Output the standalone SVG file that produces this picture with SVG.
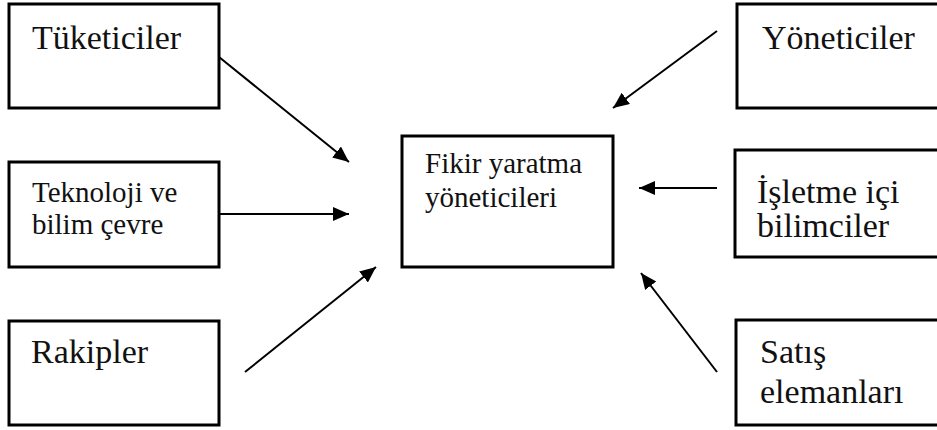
<svg xmlns="http://www.w3.org/2000/svg" width="937" height="430" viewBox="0 0 937 430">
<style>
.box{fill:#fff;stroke:#000;stroke-width:3}
text{font-family:'Liberation Serif','Times New Roman',Tinos,serif;fill:#111}
.l{font-size:34px}
.s{font-size:29px}
.c{stroke:#000;stroke-width:2;fill:none;marker-end:url(#ah)}
</style>
<defs>
<marker id="ah" markerUnits="userSpaceOnUse" markerWidth="17" markerHeight="15" refX="16" refY="7" orient="auto" viewBox="0 0 17 15">
<path d="M0,0 L16,7 L0,14 z" fill="#000"/>
</marker>
</defs>
<rect width="937" height="430" fill="#fff"/>
<g id="tuketiciler">
<rect class="box" x="9" y="4" width="210" height="104"/>
<text class="l" x="32" y="49" font-family="Liberation Serif">Tüketiciler</text>
</g>
<g id="teknoloji">
<rect class="box" x="9" y="162" width="210" height="105"/>
<text class="s" x="32" y="202" font-family="Liberation Serif">Teknoloji ve</text>
<text class="s" x="32" y="234" font-family="Liberation Serif">bilim çevre</text>
</g>
<g id="rakipler">
<rect class="box" x="9" y="321" width="210" height="104"/>
<text class="l" x="31" y="363" font-family="Liberation Serif">Rakipler</text>
</g>
<g id="fikir">
<rect class="box" x="402" y="136" width="211" height="131"/>
<text class="s" x="425" y="173" font-family="Liberation Serif">Fikir yaratma</text>
<text class="s" x="425" y="207" font-family="Liberation Serif">yöneticileri</text>
</g>
<g id="yoneticiler">
<rect class="box" x="737" y="4" width="220" height="104"/>
<text class="l" x="762" y="49" font-family="Liberation Serif">Yöneticiler</text>
</g>
<g id="isletme">
<rect class="box" x="735" y="150" width="222" height="107"/>
<text class="l" x="757" y="203" font-family="Liberation Serif">İşletme içi</text>
<text class="l" x="757" y="237" font-family="Liberation Serif">bilimciler</text>
</g>
<g id="satis">
<rect class="box" x="736" y="320" width="221" height="105"/>
<text class="l" x="760" y="363" font-family="Liberation Serif">Satış</text>
<text class="l" x="760" y="403" font-family="Liberation Serif">elemanları</text>
</g>
<g id="connectors">
<line class="c" x1="219" y1="57" x2="349" y2="162"/>
<line class="c" x1="219" y1="214" x2="349" y2="214"/>
<line class="c" x1="245" y1="372" x2="376" y2="267"/>
<line class="c" x1="717" y1="31" x2="613" y2="108"/>
<line class="c" x1="717" y1="188" x2="639" y2="188"/>
<line class="c" x1="717" y1="372" x2="641" y2="273"/>
</g>
</svg>
